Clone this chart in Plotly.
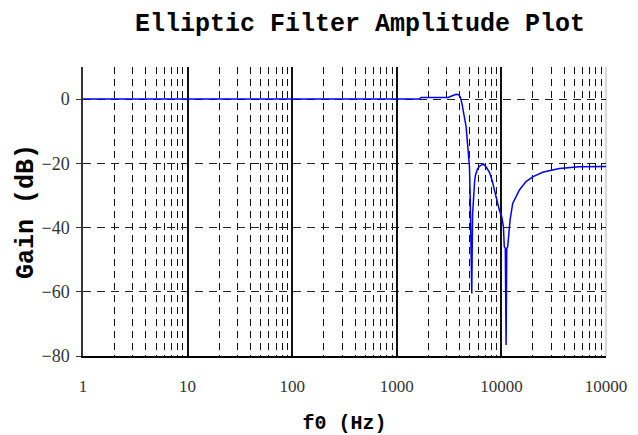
import plotly.graph_objects as go

# ---- data ----
freq_hz = [1, 10, 100, 1000, 1650, 1700, 3100, 3300, 3700, 3900, 4050, 4200, 4300,
           4450, 4600, 4770, 4870, 4950, 5025, 5100, 5210, 5300, 5430, 5550, 5650,
           5900, 6170, 6730, 7200, 7690, 8100, 8890, 9570, 10070, 10450, 10660,
           10900, 11090, 11250, 11480, 11750, 12100, 12820, 14860, 17200, 19900,
           24800, 28700, 35800, 55600, 100000]
gain_db = [0, 0, 0, 0, 0, 0.5, 0.5, 0.9, 1.5, 1.4, 0.6, -1.5, -3.4,
           -6, -8.6, -14.8, -18, -21, -30, -40, -60.5, -36, -29.4, -25.5, -23.7,
           -21.8, -20.9, -20.2, -21.3, -22.8, -25, -30.4, -34.6, -36.6, -39.7, -46,
           -46.5, -76.6, -46.5, -46, -40.8, -37.7, -32.5, -28.3, -25.7, -24.2,
           -22.8, -22.3, -21.6, -21.1, -21.0]

major_ticks = [1, 10, 100, 1000, 10000, 100000]
major_text = ["1", "10", "100", "1000", "10000", "10000"]
decade_lines = [10, 100, 1000, 10000]
y_ticks = [0, -20, -40, -60, -80]

minor_ticks = [m * 10 ** d for d in range(5) for m in range(2, 10)]

mono = "Liberation Mono"
serif = "Liberation Serif"

fig = go.Figure()
# invisible helper trace so the overlay axis (decade lines) is drawn
fig.add_trace(go.Scatter(x=freq_hz, y=gain_db, mode="lines", opacity=0,
                         hoverinfo="skip", xaxis="x2", yaxis="y", showlegend=False))
fig.add_trace(go.Scatter(x=freq_hz, y=gain_db, mode="lines",
                         line=dict(color="#0000ff", width=1.5),
                         xaxis="x", yaxis="y", showlegend=False))

fig.update_layout(
    width=638, height=435,
    margin=dict(l=83, r=32, t=67, b=79),
    paper_bgcolor="white", plot_bgcolor="white",
    title=dict(text="Elliptic Filter Amplitude Plot", x=360/638, xanchor="center",
               y=1 - 22/435, yanchor="middle", yref="container",
               font=dict(family=mono, size=25, color="black", weight="bold")),
    xaxis=dict(type="log", range=[0, 5], tickvals=major_ticks, ticktext=major_text,
               showgrid=False, zeroline=False, ticks="", ticklabelstandoff=14,
               tickfont=dict(family=serif, size=17, color="#333"),
               showline=True, linecolor="black", linewidth=1.5, automargin=False,
               minor=dict(tickvals=minor_ticks, showgrid=True, gridcolor="#111",
                          gridwidth=1, griddash="7px,5px", ticks=""),
               title=dict(text="f0 (Hz)", standoff=20,
                          font=dict(family=mono, size=20, color="black", weight="bold"))),
    xaxis2=dict(type="log", range=[0, 5], overlaying="x", anchor="y", side="bottom",
                tickvals=decade_lines, showticklabels=False, ticks="",
                showgrid=True, gridcolor="#111", gridwidth=1.5, zeroline=False,
                showline=False, automargin=False),
    yaxis=dict(range=[-80, 10], tickvals=y_ticks, zeroline=False,
               showgrid=True, gridcolor="#222", gridwidth=1, griddash="8px,6px",
               ticks="outside", ticklen=5, tickcolor="#333", tickwidth=1,
               ticklabelstandoff=3, automargin=False,
               tickfont=dict(family=serif, size=18, color="#333"),
               showline=True, linecolor="#333", linewidth=1.5,
               title=dict(text="Gain (dB)", standoff=0,
                          font=dict(family=mono, size=25, color="black", weight="bold"))),
    shapes=[dict(type="line", xref="x domain", yref="y domain", x0=1, x1=1, y0=0, y1=1,
                 line=dict(color="#cccccc", width=1.5), layer="below")],
)

fig.write_html("out.html", config={"displayModeBar": False},
               post_script="document.body.style.margin='0';")
